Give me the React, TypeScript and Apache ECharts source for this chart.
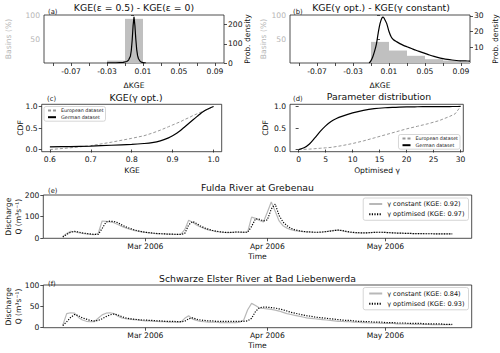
import React, { useEffect, useRef } from 'react';
import * as echarts from 'echarts';

const FONT = 'DejaVu Sans';

// (a) histogram: bin edges and % of basins
const histAEdges = [-0.03, -0.01, 0.01];
const histAPct = [5, 92];
// (a) KDE of delta KGE
const kdeAX = [-0.03, -0.02, -0.012, -0.008, -0.006, -0.004, -0.003, -0.002, -0.001, 0, 0.001, 0.002, 0.003, 0.004, 0.005, 0.007, 0.009, 0.011, 0.013];
const kdeAY = [0.3, 1, 3, 8, 15, 35, 65, 120, 195, 240, 195, 125, 70, 38, 22, 8, 3, 1, 0.3];

// (b) histogram
const histBEdges = [-0.01, 0.01, 0.03, 0.05, 0.07, 0.09, 0.11];
const histBPct = [44, 26, 15, 8, 5, 2];
// (b) KDE
const kdeBX = [-0.012, -0.01, -0.008, -0.006, -0.004, -0.002, 0, 0.002, 0.0035, 0.005, 0.0075, 0.01, 0.0125, 0.015, 0.0185, 0.022, 0.026, 0.03, 0.035, 0.04, 0.045, 0.05, 0.055, 0.06, 0.065, 0.07, 0.075, 0.08, 0.085, 0.09, 0.095, 0.1];
const kdeBY = [0, 1.5, 4, 7.5, 12, 19, 25, 28.5, 29.2, 28, 25, 20, 16.5, 14.8, 13.5, 12.3, 11.2, 10.3, 9.2, 8.1, 7.1, 6.1, 5.1, 4.2, 3.4, 2.8, 2.3, 1.9, 1.6, 1.4, 1.3, 1.2];

const dKgeTicks = [-0.09, -0.07, -0.05, -0.03, -0.01, 0.01, 0.03, 0.05, 0.07, 0.09];
const dKgeLabels = [-0.07, -0.03, 0.01, 0.05, 0.09];

// (c) CDF of KGE(gamma opt.)
const cdfKgeX = [0.6, 0.65, 0.7, 0.75, 0.8, 0.83, 0.85, 0.87, 0.89, 0.9, 0.91, 0.92, 0.93, 0.94, 0.95, 0.96, 0.97, 0.98, 0.99, 1.0];
const cdfKgeEuropean = [0.0, 0.04, 0.09, 0.17, 0.26, 0.32, 0.38, 0.45, 0.53, 0.57, 0.61, 0.65, 0.7, 0.74, 0.79, 0.83, 0.87, 0.91, 0.95, 1.0];
const cdfKgeGerman = [0.06, 0.07, 0.08, 0.1, 0.12, 0.14, 0.16, 0.2, 0.27, 0.32, 0.38, 0.45, 0.53, 0.61, 0.69, 0.77, 0.85, 0.91, 0.96, 1.0];
const kgeTicks = [0.6, 0.7, 0.8, 0.9, 1.0];

// (d) CDF of optimised gamma
const cdfGammaX = [0, 1, 2, 3, 4, 5, 6, 7, 8, 10, 12, 14, 16, 18, 20, 22, 24, 26, 28, 29, 30];
const cdfGammaGerman = [0.0, 0.04, 0.13, 0.27, 0.42, 0.55, 0.65, 0.72, 0.77, 0.85, 0.91, 0.95, 0.97, 0.98, 0.99, 0.993, 0.995, 0.997, 0.998, 0.999, 1.0];
const cdfGammaEuropean = [0.0, 0.005, 0.01, 0.02, 0.03, 0.04, 0.05, 0.07, 0.09, 0.14, 0.2, 0.27, 0.34, 0.41, 0.48, 0.54, 0.6, 0.67, 0.77, 0.83, 1.0];
const gammaTicks = [0, 5, 10, 15, 20, 25, 30];
const cdfTicks = [0, 0.5, 1];

// (e)/(f) daily discharge from 2006-02-08
const seriesStart = '2006-02-08';
const monthTicks = ['2006-03-01', '2006-04-01', '2006-05-01'];
const fuldaConstant = [8, 22, 32, 30, 26, 23, 20, 18, 17, 22, 80, 78, 76, 72, 64, 55, 48, 42, 37, 33, 30, 27, 25, 23, 22, 21, 20, 19, 18, 18, 18, 40, 83, 74, 62, 52, 45, 39, 35, 31, 29, 27, 26, 27, 29, 28, 27, 30, 98, 92, 82, 75, 120, 168, 125, 80, 58, 47, 40, 35, 33, 31, 30, 29, 28, 28, 29, 31, 34, 37, 38, 35, 31, 28, 26, 25, 25, 25, 26, 27, 28, 28, 27, 26, 25, 24, 24, 23, 23, 22, 22, 22, 21, 21, 21, 20, 20, 20, 20, 20];
const fuldaOptimised = [6, 18, 28, 32, 29, 25, 22, 20, 18, 18, 45, 75, 79, 78, 72, 62, 53, 46, 40, 35, 31, 28, 26, 24, 22, 21, 20, 19, 19, 18, 18, 22, 62, 78, 68, 57, 48, 42, 37, 33, 30, 28, 27, 27, 29, 29, 28, 28, 55, 90, 88, 80, 85, 135, 158, 105, 75, 58, 46, 39, 35, 32, 30, 29, 28, 28, 29, 31, 33, 36, 38, 36, 32, 29, 27, 26, 25, 25, 26, 27, 28, 28, 27, 26, 25, 24, 24, 23, 23, 22, 22, 22, 21, 21, 21, 20, 20, 20, 20, 20];
const elsterConstant = [6, 33, 35, 34, 24, 18, 15, 14, 14, 22, 30, 34, 35, 33, 27, 23, 21, 20, 19, 18, 17, 16, 16, 15, 15, 14, 14, 13, 13, 13, 13, 22, 28, 20, 17, 15, 14, 13, 13, 13, 12, 12, 12, 12, 12, 13, 18, 42, 57, 52, 46, 45, 44, 43, 41, 39, 36, 33, 31, 29, 27, 25, 23, 22, 21, 20, 19, 18, 17, 16, 15, 15, 14, 14, 13, 13, 12, 12, 11, 11, 11, 10, 10, 10, 10, 9, 9, 9, 9, 8, 8, 8, 8, 8, 7, 7, 7, 7, 7, 7];
const elsterOptimised = [5, 14, 24, 31, 28, 23, 20, 17, 16, 17, 21, 26, 30, 32, 30, 26, 23, 21, 20, 19, 18, 18, 17, 17, 16, 16, 15, 15, 15, 14, 14, 15, 21, 23, 20, 18, 17, 16, 16, 15, 15, 15, 15, 15, 15, 15, 15, 16, 22, 38, 47, 48, 48, 47, 46, 44, 42, 39, 36, 34, 32, 30, 28, 27, 25, 24, 23, 22, 21, 20, 19, 18, 17, 17, 16, 15, 15, 14, 14, 13, 13, 13, 12, 12, 12, 11, 11, 11, 10, 10, 10, 10, 9, 9, 9, 9, 9, 8, 8, 8];

const NAME_EU = 'European dataset';
const NAME_DE = 'German dataset';
const NAME_E1 = 'γ constant (KGE: 0.92)';
const NAME_E2 = 'γ optimised (KGE: 0.97)';
const NAME_F1 = 'γ constant (KGE: 0.84)';
const NAME_F2 = 'γ optimised (KGE: 0.93)';

const MONTHS = ['Jan', 'Feb', 'Mar', 'Apr', 'May', 'Jun', 'Jul', 'Aug', 'Sep', 'Oct', 'Nov', 'Dec'];
const DAY = 86400000;
const parseUTC = (s: string) => {
  const [y, m, d] = s.split('-').map(Number);
  return Date.UTC(y, m - 1, d);
};

export default function App() {
  const ref = useRef<HTMLDivElement>(null);
  useEffect(() => {
    if (!ref.current) return;
    const chart = echarts.init(ref.current, undefined, { renderer: 'svg' });
    const t0 = parseUTC(seriesStart);
    const ts = (arr: number[]) => arr.map((v, i) => [t0 + i * DAY, v]);
    const pairs = (xs: number[], ys: number[]) => xs.map((x, i) => [x, ys[i]]);
    const bins = (edges: number[], pct: number[]) => pct.map((p, i) => [edges[i], edges[i + 1], p]);
    const tMin = t0 - 4.95 * DAY;
    const tMax = t0 + (fuldaConstant.length - 1) * DAY + 4.95 * DAY;
    const monthVals = monthTicks.map(parseUTC);

    const TICKFS = 7.6;
    const tick = { show: true, length: 3, lineStyle: { color: '#222', width: 0.8 } };
    const lab = (extra: any = {}) => ({ fontSize: TICKFS, color: '#111', fontFamily: FONT, margin: 4, ...extra });
    const base = { axisLine: { show: false }, splitLine: { show: false } };
    const gridStyle = { show: true, borderColor: '#222', borderWidth: 0.8, backgroundColor: 'transparent' };

    const histRender = (params: any, api: any) => {
      const p0 = api.coord([api.value(0), api.value(2)]);
      const p1 = api.coord([api.value(1), 0]);
      const shape = echarts.graphic.clipRectByRect(
        { x: p0[0], y: p0[1], width: p1[0] - p0[0], height: p1[1] - p0[1] },
        { x: params.coordSys.x, y: params.coordSys.y, width: params.coordSys.width, height: params.coordSys.height }
      );
      return shape && { type: 'rect', shape, style: { fill: '#c0c0c0' } };
    };

    const txt = (text: string, x: number, y: number, size: number, o: any = {}) => ({
      type: 'text', x, y, rotation: o.rot || 0, z: 100,
      style: { text, fontSize: size, fontFamily: FONT, fill: o.color || '#111', textAlign: o.align || 'center', textVerticalAlign: 'middle' },
    });
    const ROT = Math.PI / 2;

    const legendBase = {
      orient: 'vertical', backgroundColor: '#fff', borderColor: '#ccc', borderWidth: 0.8, borderRadius: 2,
      selectedMode: false, itemStyle: { opacity: 0 },
    };

    const option: any = {
      animation: false,
      grid: [
        { left: 44, top: 15, width: 180, height: 48, ...gridStyle },
        { left: 290, top: 15, width: 180, height: 48, ...gridStyle },
        { left: 41.7, top: 104.3, width: 180, height: 47.4, ...gridStyle },
        { left: 290, top: 104.3, width: 173.3, height: 47.4, ...gridStyle },
        { left: 43.3, top: 195, width: 428.4, height: 43.3, ...gridStyle },
        { left: 43.3, top: 285, width: 428.4, height: 42.7, ...gridStyle },
      ],
      xAxis: [0, 1].map((g) => ({
        ...base, type: 'value', gridIndex: g, min: -0.1, max: 0.1,
        axisTick: { ...tick, customValues: dKgeTicks },
        axisLabel: lab({ customValues: dKgeLabels, formatter: (v: number) => v.toFixed(2) }),
      })).concat([
        {
          ...base, type: 'value', gridIndex: 2, min: 0.58, max: 1.02,
          axisTick: { ...tick, customValues: kgeTicks },
          axisLabel: lab({ customValues: kgeTicks, formatter: (v: number) => v.toFixed(1) }),
        } as any,
        {
          ...base, type: 'value', gridIndex: 3, min: -1.6, max: 30.5,
          axisTick: { ...tick, customValues: gammaTicks },
          axisLabel: lab({ customValues: gammaTicks, formatter: (v: number) => String(Math.round(v)) }),
        },
        ...[4, 5].map((g) => ({
          ...base, type: 'value', gridIndex: g, min: tMin, max: tMax,
          axisTick: { ...tick, customValues: monthVals },
          axisLabel: lab({
            customValues: monthVals,
            formatter: (v: number) => { const d = new Date(v); return MONTHS[d.getUTCMonth()] + ' ' + d.getUTCFullYear(); },
          }),
        })),
      ]),
      yAxis: [
        { ...base, type: 'value', gridIndex: 0, position: 'left', min: 0, max: 100, axisTick: { ...tick, customValues: [50, 100] }, axisLabel: lab({ customValues: [50, 100], color: '#b5b5b5' }) },
        { ...base, type: 'value', gridIndex: 0, position: 'right', min: 0, max: 250, axisTick: { ...tick, customValues: [0, 100, 200] }, axisLabel: lab({ customValues: [0, 100, 200] }) },
        { ...base, type: 'value', gridIndex: 1, position: 'left', min: 0, max: 100, axisTick: { ...tick, customValues: [50, 100] }, axisLabel: lab({ customValues: [50, 100], color: '#b5b5b5' }) },
        { ...base, type: 'value', gridIndex: 1, position: 'right', min: 0, max: 30.5, axisTick: { ...tick, customValues: [10, 20, 30] }, axisLabel: lab({ customValues: [10, 20, 30] }) },
        { ...base, type: 'value', gridIndex: 2, min: -0.05, max: 1.05, axisTick: { ...tick, customValues: cdfTicks }, axisLabel: lab({ customValues: cdfTicks, formatter: (v: number) => v.toFixed(1) }) },
        { ...base, type: 'value', gridIndex: 3, min: -0.05, max: 1.05, axisTick: { ...tick, customValues: cdfTicks }, axisLabel: lab({ customValues: cdfTicks, formatter: (v: number) => v.toFixed(1) }) },
        { ...base, type: 'value', gridIndex: 4, min: 0, max: 200, axisTick: { ...tick, customValues: [0, 100, 200] }, axisLabel: lab({ customValues: [0, 100, 200] }) },
        { ...base, type: 'value', gridIndex: 5, min: 0, max: 100, axisTick: { ...tick, customValues: [0, 50, 100] }, axisLabel: lab({ customValues: [0, 50, 100] }) },
      ],
      legend: [
        { ...legendBase, data: [NAME_EU, NAME_DE], left: 44, top: 106.5, padding: [1.5, 2, 1.5, 3], itemWidth: 8, itemHeight: 5, itemGap: 1.7, textStyle: { fontSize: 4.8, fontFamily: FONT, color: '#111' } },
        { ...legendBase, data: [NAME_EU, NAME_DE], right: 40, top: 134.5, padding: [1.5, 2, 1.5, 3], itemWidth: 8, itemHeight: 5, itemGap: 1.7, textStyle: { fontSize: 4.8, fontFamily: FONT, color: '#111' } },
        { ...legendBase, data: [NAME_E1, NAME_E2], right: 31.5, top: 198, padding: [2.5, 4, 2.5, 5], itemWidth: 13, itemHeight: 7, itemGap: 3.3, textStyle: { fontSize: 6.5, fontFamily: FONT, color: '#111' } },
        { ...legendBase, data: [NAME_F1, NAME_F2], right: 31.5, top: 287.5, padding: [2.5, 4, 2.5, 5], itemWidth: 13, itemHeight: 7, itemGap: 3.3, textStyle: { fontSize: 6.5, fontFamily: FONT, color: '#111' } },
      ],
      series: [
        { type: 'custom', xAxisIndex: 0, yAxisIndex: 0, renderItem: histRender, encode: { x: [0, 1], y: 2 }, data: bins(histAEdges, histAPct), silent: true },
        { type: 'line', xAxisIndex: 0, yAxisIndex: 1, data: pairs(kdeAX, kdeAY), showSymbol: false, symbol: 'none', lineStyle: { color: '#000', width: 1.2 }, silent: true },
        { type: 'custom', xAxisIndex: 1, yAxisIndex: 2, renderItem: histRender, encode: { x: [0, 1], y: 2 }, data: bins(histBEdges, histBPct), silent: true },
        { type: 'line', xAxisIndex: 1, yAxisIndex: 3, data: pairs(kdeBX, kdeBY), showSymbol: false, symbol: 'none', smooth: 0.3, lineStyle: { color: '#000', width: 1.2 }, silent: true },
        { name: NAME_EU, type: 'line', xAxisIndex: 2, yAxisIndex: 4, data: pairs(cdfKgeX, cdfKgeEuropean), showSymbol: false, symbol: 'none', itemStyle: { color: '#999' }, lineStyle: { color: '#999', width: 1, type: [3, 2] } },
        { name: NAME_DE, type: 'line', xAxisIndex: 2, yAxisIndex: 4, data: pairs(cdfKgeX, cdfKgeGerman), showSymbol: false, symbol: 'none', smooth: 0.3, itemStyle: { color: '#000' }, lineStyle: { color: '#000', width: 1.2 } },
        { name: NAME_EU, type: 'line', xAxisIndex: 3, yAxisIndex: 5, data: pairs(cdfGammaX, cdfGammaEuropean), showSymbol: false, symbol: 'none', itemStyle: { color: '#999' }, lineStyle: { color: '#999', width: 1, type: [3, 2] } },
        { name: NAME_DE, type: 'line', xAxisIndex: 3, yAxisIndex: 5, data: pairs(cdfGammaX, cdfGammaGerman), showSymbol: false, symbol: 'none', smooth: 0.3, itemStyle: { color: '#000' }, lineStyle: { color: '#000', width: 1.2 } },
        { name: NAME_E1, type: 'line', xAxisIndex: 4, yAxisIndex: 6, data: ts(fuldaConstant), showSymbol: false, symbol: 'none', itemStyle: { color: '#b8b8b8' }, lineStyle: { color: '#b8b8b8', width: 1.2 } },
        { name: NAME_E2, type: 'line', xAxisIndex: 4, yAxisIndex: 6, data: ts(fuldaOptimised), showSymbol: false, symbol: 'none', itemStyle: { color: '#000' }, lineStyle: { color: '#000', width: 1.2, type: [1.2, 1.4] } },
        { name: NAME_F1, type: 'line', xAxisIndex: 5, yAxisIndex: 7, data: ts(elsterConstant), showSymbol: false, symbol: 'none', itemStyle: { color: '#b8b8b8' }, lineStyle: { color: '#b8b8b8', width: 1.2 } },
        { name: NAME_F2, type: 'line', xAxisIndex: 5, yAxisIndex: 7, data: ts(elsterOptimised), showSymbol: false, symbol: 'none', itemStyle: { color: '#000' }, lineStyle: { color: '#000', width: 1.2, type: [1.2, 1.4] } },
      ],
      graphic: [
        txt('KGE(ε = 0.5) - KGE(ε = 0)', 134, 7.5, 9.3),
        txt('KGE(γ opt.) - KGE(γ constant)', 381, 7.5, 9.3),
        txt('(a)', 48, 11.5, 6.8, { align: 'left' }),
        txt('(b)', 293, 12, 6.8, { align: 'left' }),
        txt('ΔKGE', 134, 85, 7.6),
        txt('ΔKGE', 380, 85, 7.6),
        txt('Basins (%)', 8.5, 39, 7.6, { rot: ROT, color: '#b5b5b5' }),
        txt('Prob. density', 247.5, 39, 7.6, { rot: ROT }),
        txt('Basins (%)', 263.5, 39, 7.6, { rot: ROT, color: '#b5b5b5' }),
        txt('Prob. density', 495.5, 39, 7.6, { rot: ROT }),
        txt('KGE(γ opt.)', 136, 97, 9.3),
        txt('Parameter distribution', 379, 96.8, 9.3),
        txt('(c)', 47, 99, 6.8, { align: 'left' }),
        txt('(d)', 293, 98.5, 6.8, { align: 'left' }),
        txt('CDF', 20, 128, 7.6, { rot: ROT }),
        txt('CDF', 265, 128, 7.6, { rot: ROT }),
        txt('KGE', 132, 170, 7.6),
        txt('Optimised γ', 377, 170, 7.6),
        txt('Fulda River at Grebenau', 257.5, 187.5, 9.3),
        txt('(e)', 48, 191, 6.8, { align: 'left' }),
        txt('Discharge', 8.3, 216.7, 7.6, { rot: ROT }),
        txt('Q (m³s⁻¹)', 18.3, 216.7, 7.6, { rot: ROT }),
        txt('Time', 257.5, 256.7, 7.6),
        txt('Schwarze Elster River at Bad Liebenwerda', 257.5, 278.3, 9.3),
        txt('(f)', 48, 283.5, 6.8, { align: 'left' }),
        txt('Discharge', 8.3, 306.4, 7.6, { rot: ROT }),
        txt('Q (m³s⁻¹)', 18.3, 306.4, 7.6, { rot: ROT }),
        txt('Time', 257.5, 345.7, 7.6),
      ],
    };
    chart.setOption(option);
    return () => chart.dispose();
  }, []);
  return <div ref={ref} style={{ position: 'fixed', left: 0, top: 0, width: 500, height: 353, background: '#fff' }} />;
}
